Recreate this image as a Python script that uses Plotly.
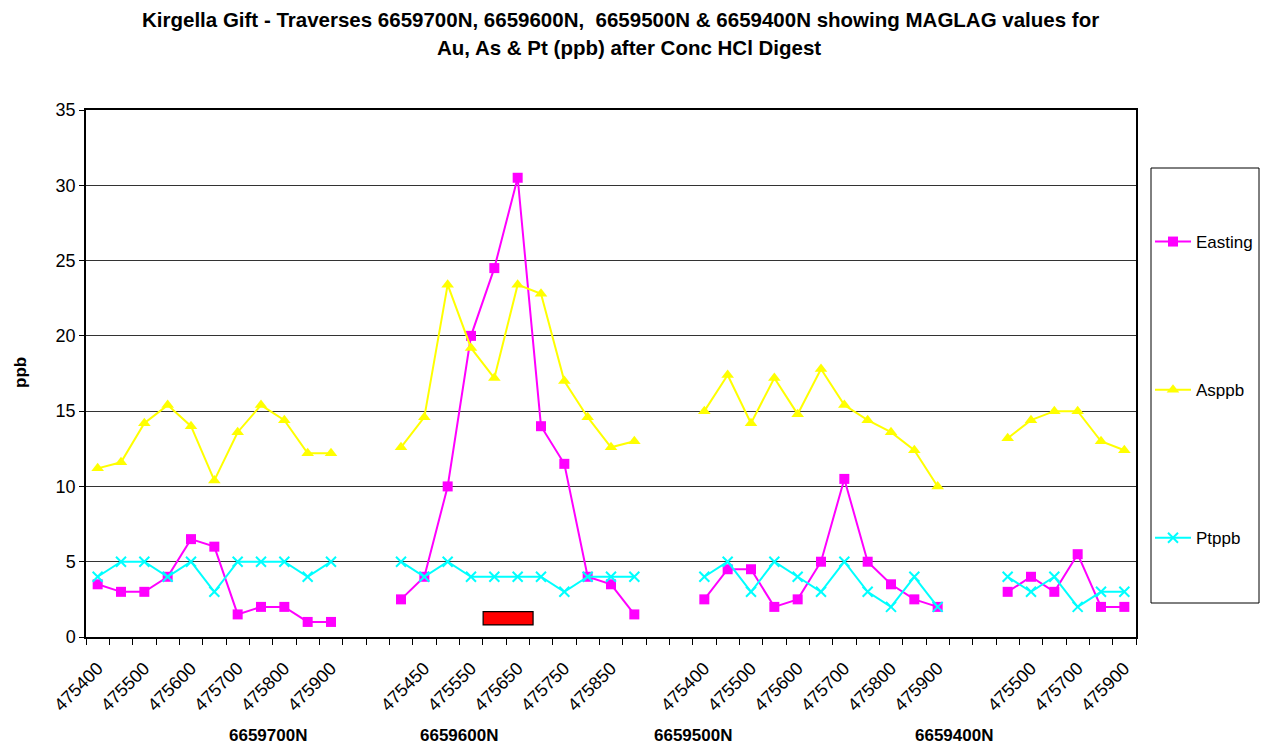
import plotly.graph_objects as go

# Eastings sampled along each northing traverse
traverse_names = ["6659700N", "6659600N", "6659500N", "6659400N"]
eastings_700 = [475400, 475450, 475500, 475550, 475600, 475650, 475700, 475750, 475800, 475850, 475900]
eastings_600 = [475400, 475450, 475500, 475550, 475600, 475650, 475700, 475750, 475800, 475850, 475900]
eastings_500 = [475400, 475450, 475500, 475550, 475600, 475650, 475700, 475750, 475800, 475850, 475900]
eastings_400 = [475400, 475500, 475600, 475700, 475800, 475900]

# Au (ppb) - legend label "Easting" as in the source sheet
au_700 = [3.5, 3, 3, 4, 6.5, 6, 1.5, 2, 2, 1, 1]
au_600 = [2.5, 4, 10, 20, 24.5, 30.5, 14, 11.5, 4, 3.5, 1.5]
au_500 = [2.5, 4.5, 4.5, 2, 2.5, 5, 10.5, 5, 3.5, 2.5, 2]
au_400 = [3, 4, 3, 5.5, 2, 2]

# As (ppb)
as_700 = [11.2, 11.6, 14.2, 15.4, 14, 10.4, 13.6, 15.4, 14.4, 12.2, 12.2]
as_600 = [12.6, 14.6, 23.4, 19.2, 17.2, 23.4, 22.8, 17, 14.6, 12.6, 13]
as_500 = [15, 17.4, 14.2, 17.2, 14.8, 17.8, 15.4, 14.4, 13.6, 12.4, 10]
as_400 = [13.2, 14.4, 15, 15, 13, 12.4]

# Pt (ppb)
pt_700 = [4, 5, 5, 4, 5, 3, 5, 5, 5, 4, 5]
pt_600 = [5, 4, 5, 4, 4, 4, 4, 3, 4, 4, 4]
pt_500 = [4, 5, 3, 5, 4, 3, 5, 3, 2, 4, 2]
pt_400 = [4, 3, 4, 2, 3, 3]

GAP = 2  # empty categories between traverses

# Build one category axis with blank slots separating traverses
groups = [
    (eastings_700, au_700, as_700, pt_700),
    (eastings_600, au_600, as_600, pt_600),
    (eastings_500, au_500, as_500, pt_500),
    (eastings_400, au_400, as_400, pt_400),
]
categories, au, asv, pt = [], [], [], []
for gi, (e, a, s, p) in enumerate(groups):
    if gi > 0:
        categories += [""] * GAP
        au += [None] * GAP
        asv += [None] * GAP
        pt += [None] * GAP
    categories += [str(v) for v in e]
    au += a
    asv += s
    pt += p

xpos = list(range(len(categories)))
n = len(categories)

# every second category is labelled
label_pos = [i for i in xpos if i % 2 == 0 and categories[i] != ""]
label_txt = [categories[i] for i in label_pos]
boundaries = [i - 0.5 for i in range(n + 1)]

FONT = "Liberation Sans, Arial, sans-serif"

fig = go.Figure()
fig.add_trace(go.Scatter(
    x=xpos, y=au, name="Easting", mode="lines+markers", legendgroup="a",
    line=dict(color="#FF00FF", width=2),
    marker=dict(symbol="square", size=10, color="#FF00FF"),
))
fig.add_trace(go.Scatter(
    x=xpos, y=asv, name="Asppb", mode="lines+markers", legendgroup="b",
    line=dict(color="#FFFF00", width=2),
    marker=dict(symbol="triangle-up", size=11, color="#FFFF00"),
))
fig.add_trace(go.Scatter(
    x=xpos, y=pt, name="Ptppb", mode="lines+markers", legendgroup="c",
    line=dict(color="#00FFFF", width=2),
    marker=dict(symbol="x-thin", size=10, line=dict(color="#00FFFF", width=2)),
))

# highlighted interval on traverse 6659600N
zone_x = (16.52, 18.66)
zone_y = (0.8, 1.68)
fig.add_shape(type="rect", xref="x", yref="y", x0=zone_x[0], x1=zone_x[1],
              y0=zone_y[0], y1=zone_y[1], fillcolor="#FF0000",
              line=dict(color="black", width=1.2))

# plot-area geometry in pixels
L, T, W, H = 86, 110, 1050, 527
def px(xp):
    return (xp - L) / W
def py(yp):
    return (T + H - yp) / H

# legend frame
fig.add_shape(type="rect", xref="paper", yref="paper",
              x0=px(1151), x1=px(1259), y0=py(603), y1=py(168),
              line=dict(color="black", width=1), fillcolor="rgba(0,0,0,0)")

# traverse labels under the axis
label_x = [7.3, 15.5, 25.5, 36.7]
for name, lx in zip(traverse_names, label_x):
    fig.add_annotation(x=lx, y=py(735), xref="x", yref="paper", text=name,
                       showarrow=False, font=dict(family=FONT, size=17, color="black", weight="bold"),
                       xanchor="center", yanchor="middle")

# title lines
fig.add_annotation(x=px(620), y=py(20), xref="paper", yref="paper",
                   text="Kirgella Gift - Traverses 6659700N, 6659600N,  6659500N & 6659400N showing MAGLAG values for",
                   showarrow=False, font=dict(family=FONT, size=20.5, color="black", weight="bold"),
                   xanchor="center", yanchor="middle")
fig.add_annotation(x=px(629), y=py(48), xref="paper", yref="paper",
                   text="Au, As & Pt (ppb) after Conc HCl Digest",
                   showarrow=False, font=dict(family=FONT, size=20.5, color="black", weight="bold"),
                   xanchor="center", yanchor="middle")
# y-axis title
fig.add_annotation(x=px(20), y=py(373), xref="paper", yref="paper", text="ppb",
                   textangle=-90, showarrow=False,
                   font=dict(family=FONT, size=17, color="black", weight="bold"),
                   xanchor="center", yanchor="middle")

fig.update_layout(
    width=1263, height=744,
    margin=dict(l=L, r=1263 - L - W, t=T, b=744 - T - H, autoexpand=False),
    paper_bgcolor="white", plot_bgcolor="white",
    font=dict(family=FONT, size=17, color="black"),
    showlegend=True,
    legend=dict(x=px(1150), y=py(224), xanchor="left", yanchor="top",
                bgcolor="rgba(0,0,0,0)", borderwidth=0,
                tracegroupgap=123, itemwidth=36,
                font=dict(family=FONT, size=17, color="black")),
    xaxis=dict(
        range=[-0.5, n - 0.5], tickmode="array", tickvals=label_pos, ticktext=label_txt,
        tickangle=-45, ticks="", showgrid=False, zeroline=False,
        showline=True, linecolor="black", linewidth=1.5, mirror=True,
        ticklabelstandoff=12,
        tickfont=dict(family=FONT, size=18, color="black"),
        minor=dict(tickmode="array", tickvals=boundaries, ticks="outside",
                   ticklen=6, tickcolor="black", showgrid=False),
    ),
    yaxis=dict(
        range=[0, 35], dtick=5, tick0=0, ticks="outside", ticklen=5, tickcolor="black",
        showgrid=True, gridcolor="#333333", gridwidth=1, zeroline=False,
        showline=True, linecolor="black", linewidth=1.5, mirror=True,
        tickfont=dict(family=FONT, size=18, color="black"),
    ),
)

fig.write_html("out.html")
